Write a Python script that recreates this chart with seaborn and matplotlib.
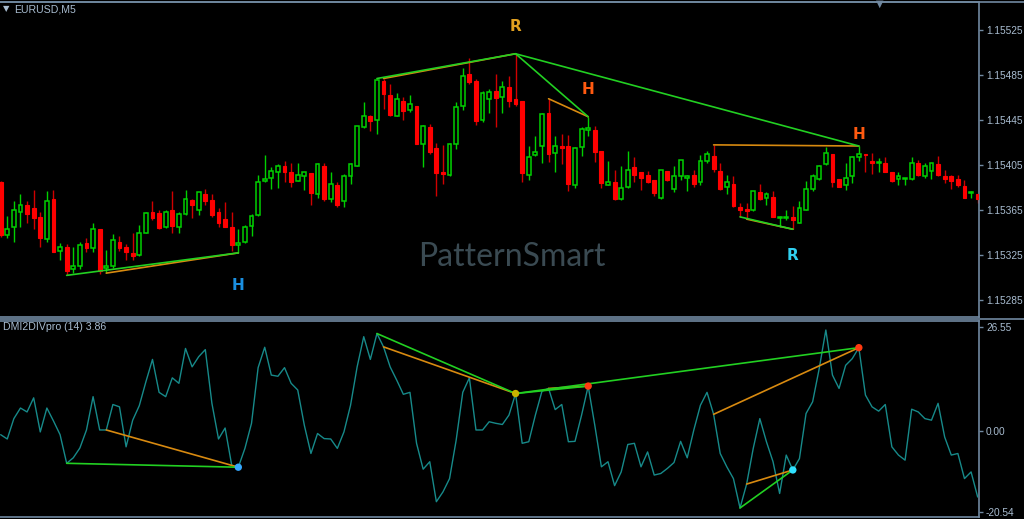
import numpy as np
import pandas as pd
import seaborn as sns
import matplotlib
matplotlib.use('Agg')
import matplotlib.pyplot as plt
from matplotlib.lines import Line2D

# candle data (149 bars, left to right)
opens = [
    1.15390, 1.15343, 1.15350, 1.15363, 1.15370, 1.15367, 1.15359, 1.15339, 1.15375, 1.15329,
    1.15332, 1.15313, 1.15315, 1.15336, 1.15331, 1.15348, 1.15314, 1.15315, 1.15337, 1.15332,
    1.15327, 1.15325, 1.15345, 1.15363, 1.15362, 1.15350, 1.15365, 1.15350, 1.15362, 1.15374,
    1.15365, 1.15379, 1.15374, 1.15363, 1.15357, 1.15350, 1.15334, 1.15337, 1.15351, 1.15361,
    1.15391, 1.15394, 1.15399, 1.15404, 1.15399, 1.15391, 1.15395, 1.15398, 1.15379, 1.15404,
    1.15375, 1.15387, 1.15373, 1.15395, 1.15404, 1.15439, 1.15449, 1.15445, 1.15480, 1.15467,
    1.15449, 1.15462, 1.15454, 1.15458, 1.15424, 1.15439, 1.15420, 1.15399, 1.15396, 1.15424,
    1.15458, 1.15486, 1.15480, 1.15445, 1.15464, 1.15471, 1.15466, 1.15474, 1.15464, 1.15462,
    1.15396, 1.15414, 1.15422, 1.15451, 1.15416, 1.15422, 1.15422, 1.15387, 1.15421, 1.15436,
    1.15436, 1.15418, 1.15387, 1.15390, 1.15375, 1.15386, 1.15403, 1.15399, 1.15396, 1.15392,
    1.15376, 1.15400, 1.15384, 1.15395, 1.15394, 1.15396, 1.15390, 1.15409, 1.15413, 1.15400,
    1.15386, 1.15388, 1.15368, 1.15366, 1.15365, 1.15381, 1.15376, 1.15377, 1.15358, 1.15358,
    1.15359, 1.15354, 1.15365, 1.15384, 1.15393, 1.15406, 1.15415, 1.15393, 1.15387, 1.15395,
    1.15412, 1.15415, 1.15409, 1.15407, 1.15407, 1.15399, 1.15393, 1.15393, 1.15393, 1.15407,
    1.15395, 1.15400, 1.15406, 1.15395, 1.15395, 1.15393, 1.15386, 1.15380, 1.15379,
]
highs = [
    1.15391, 1.15360, 1.15373, 1.15379, 1.15373, 1.15383, 1.15363, 1.15382, 1.15383, 1.15336,
    1.15335, 1.15332, 1.15337, 1.15340, 1.15354, 1.15348, 1.15330, 1.15344, 1.15342, 1.15335,
    1.15345, 1.15352, 1.15363, 1.15373, 1.15365, 1.15365, 1.15382, 1.15363, 1.15383, 1.15375,
    1.15381, 1.15384, 1.15379, 1.15367, 1.15372, 1.15363, 1.15348, 1.15352, 1.15362, 1.15396,
    1.15414, 1.15403, 1.15406, 1.15409, 1.15407, 1.15407, 1.15399, 1.15398, 1.15407, 1.15407,
    1.15399, 1.15390, 1.15397, 1.15407, 1.15440, 1.15461, 1.15450, 1.15482, 1.15482, 1.15477,
    1.15469, 1.15466, 1.15467, 1.15458, 1.15441, 1.15442, 1.15425, 1.15423, 1.15425, 1.15461,
    1.15491, 1.15500, 1.15482, 1.15471, 1.15473, 1.15486, 1.15480, 1.15484, 1.15504, 1.15462,
    1.15422, 1.15431, 1.15451, 1.15464, 1.15431, 1.15433, 1.15432, 1.15421, 1.15439, 1.15448,
    1.15440, 1.15418, 1.15409, 1.15401, 1.15404, 1.15418, 1.15412, 1.15399, 1.15400, 1.15392,
    1.15401, 1.15400, 1.15404, 1.15410, 1.15396, 1.15401, 1.15414, 1.15418, 1.15423, 1.15407,
    1.15396, 1.15395, 1.15371, 1.15371, 1.15382, 1.15388, 1.15381, 1.15382, 1.15360, 1.15365,
    1.15369, 1.15373, 1.15391, 1.15397, 1.15405, 1.15421, 1.15415, 1.15393, 1.15407, 1.15413,
    1.15422, 1.15415, 1.15416, 1.15411, 1.15412, 1.15399, 1.15399, 1.15394, 1.15412, 1.15410,
    1.15407, 1.15407, 1.15413, 1.15401, 1.15396, 1.15396, 1.15392, 1.15382, 1.15379,
]
lows = [
    1.15341, 1.15340, 1.15337, 1.15350, 1.15354, 1.15348, 1.15332, 1.15337, 1.15328, 1.15321,
    1.15307, 1.15309, 1.15313, 1.15328, 1.15328, 1.15308, 1.15309, 1.15314, 1.15329, 1.15321,
    1.15321, 1.15324, 1.15345, 1.15356, 1.15348, 1.15349, 1.15345, 1.15345, 1.15361, 1.15358,
    1.15361, 1.15370, 1.15359, 1.15350, 1.15350, 1.15329, 1.15327, 1.15336, 1.15342, 1.15360,
    1.15390, 1.15384, 1.15385, 1.15390, 1.15386, 1.15391, 1.15383, 1.15370, 1.15376, 1.15373,
    1.15372, 1.15368, 1.15368, 1.15388, 1.15404, 1.15438, 1.15435, 1.15433, 1.15455, 1.15449,
    1.15449, 1.15445, 1.15452, 1.15424, 1.15403, 1.15415, 1.15378, 1.15388, 1.15395, 1.15419,
    1.15454, 1.15477, 1.15441, 1.15443, 1.15451, 1.15439, 1.15451, 1.15457, 1.15458, 1.15390,
    1.15392, 1.15413, 1.15407, 1.15408, 1.15399, 1.15406, 1.15382, 1.15385, 1.15413, 1.15431,
    1.15408, 1.15385, 1.15387, 1.15374, 1.15374, 1.15385, 1.15390, 1.15383, 1.15389, 1.15378,
    1.15375, 1.15391, 1.15381, 1.15392, 1.15382, 1.15386, 1.15387, 1.15407, 1.15399, 1.15383,
    1.15379, 1.15368, 1.15359, 1.15357, 1.15364, 1.15374, 1.15370, 1.15359, 1.15350, 1.15356,
    1.15348, 1.15354, 1.15365, 1.15382, 1.15392, 1.15405, 1.15386, 1.15386, 1.15383, 1.15389,
    1.15409, 1.15399, 1.15397, 1.15399, 1.15399, 1.15390, 1.15387, 1.15387, 1.15392, 1.15395,
    1.15394, 1.15393, 1.15395, 1.15389, 1.15384, 1.15386, 1.15376, 1.15376, 1.15371,
]
closes = [
    1.15343, 1.15348, 1.15365, 1.15370, 1.15362, 1.15358, 1.15340, 1.15373, 1.15328, 1.15332,
    1.15311, 1.15315, 1.15334, 1.15331, 1.15348, 1.15311, 1.15315, 1.15338, 1.15331, 1.15328,
    1.15324, 1.15345, 1.15362, 1.15358, 1.15349, 1.15363, 1.15351, 1.15362, 1.15375, 1.15370,
    1.15381, 1.15373, 1.15361, 1.15354, 1.15350, 1.15334, 1.15336, 1.15350, 1.15360, 1.15390,
    1.15393, 1.15400, 1.15404, 1.15399, 1.15390, 1.15396, 1.15399, 1.15380, 1.15406, 1.15375,
    1.15388, 1.15370, 1.15395, 1.15406, 1.15440, 1.15449, 1.15444, 1.15481, 1.15468, 1.15450,
    1.15464, 1.15453, 1.15459, 1.15424, 1.15440, 1.15417, 1.15398, 1.15397, 1.15424, 1.15457,
    1.15484, 1.15479, 1.15444, 1.15469, 1.15470, 1.15465, 1.15474, 1.15462, 1.15459, 1.15398,
    1.15412, 1.15417, 1.15450, 1.15415, 1.15422, 1.15420, 1.15388, 1.15420, 1.15437, 1.15438,
    1.15417, 1.15389, 1.15390, 1.15375, 1.15385, 1.15401, 1.15396, 1.15394, 1.15390, 1.15380,
    1.15401, 1.15392, 1.15395, 1.15410, 1.15395, 1.15388, 1.15409, 1.15415, 1.15402, 1.15384,
    1.15390, 1.15369, 1.15365, 1.15364, 1.15382, 1.15375, 1.15379, 1.15359, 1.15359, 1.15359,
    1.15356, 1.15367, 1.15384, 1.15395, 1.15404, 1.15416, 1.15390, 1.15386, 1.15394, 1.15412,
    1.15415, 1.15414, 1.15407, 1.15408, 1.15399, 1.15391, 1.15395, 1.15394, 1.15407, 1.15396,
    1.15404, 1.15407, 1.15396, 1.15393, 1.15391, 1.15387, 1.15376, 1.15381, 1.15375,
]

# DMI2DIVpro (14) oscillator values
osc = [
    -0.9, -2.0, 3.2, 5.9, 4.9, 8.5, -0.2, 5.9, 2.6, -0.9,
    -8.2, -6.8, -4.3, 0.3, 8.8, 0.3, 0.3, 6.8, 6.2, -4.0,
    2.8, 6.5, 12.6, 18.3, 9.9, 8.8, 13.6, 12.2, 21.1, 16.4,
    19.0, 20.8, 7.1, -2.0, 0.8, -8.7, -9.2, -4.4, 2.0, 16.2,
    21.4, 14.3, 14.0, 16.2, 12.2, 10.5, 1.5, -5.7, -0.6, -1.9,
    -2.0, -4.4, -0.2, 6.6, 16.4, 24.1, 18.3, 24.9, 21.5, 16.4,
    13.0, 9.4, 9.9, -3.1, -9.7, -7.8, -18.0, -15.5, -12.1, -2.3,
    9.9, 13.6, 0.3, 0.3, 2.4, 2.0, 1.7, 4.1, 9.6, -3.1,
    -2.7, 4.1, 10.2, 10.9, 5.5, 6.8, -2.7, -2.6, 4.1, 11.5,
    1.5, -9.1, -7.8, -13.9, -10.4, -3.4, -3.1, -9.1, -5.3, -11.2,
    -10.8, -9.5, -8.0, -2.6, -6.8, 0.3, 6.6, 9.9, 4.3, -5.7,
    -9.1, -12.1, -19.6, -13.5, -4.4, 3.2, -2.7, -7.8, -15.9, -6.1,
    -9.9, -7.0, 4.5, 7.5, 16.0, 25.8, 14.3, 10.9, 16.8, 18.5,
    21.3, 9.2, 6.2, 5.1, 6.8, -4.0, -6.1, -7.4, 5.6, 4.9,
    3.2, 2.8, 7.1, -1.5, -6.1, -5.7, -12.1, -10.4, -16.8,
]

price_ticks = [1.15285, 1.15325, 1.15365, 1.15405, 1.15445, 1.15485, 1.15525]
osc_ticks = [-20.54, 0.00, 26.55]

# divergence patterns: (label, label colour, side, green start, orange start, end bar, dot colour)
patterns = [
    ('H', '#1a8fe0', 'low', 10, 16, 36, '#35a8ff'),
    ('R', '#e0a020', 'high', 57, 58, 78, '#c8b400'),
    ('H', '#ff5a10', 'high', 78, 83, 89, '#ff3a10'),
    ('H', '#ff5a10', 'high', 78, 108, 130, '#ff3a10'),
    ('R', '#30d0f0', 'low', 112, 113, 120, '#30e0ff'),
]
label_offsets = {0: -0.00029, 1: 0.00024, 2: 0.00024, 3: 0.00010, 4: -0.00023}

df = pd.DataFrame({'open': opens, 'high': highs, 'low': lows, 'close': closes, 'osc': osc})
df['bar'] = np.arange(len(df))
bull = df['close'] >= df['open']

sns.set_style('dark', {'axes.facecolor': 'black', 'figure.facecolor': 'black'})
plt.rcParams['font.family'] = ['Liberation Sans', 'DejaVu Sans']

frame = '#7088a0'
txt = '#a8bcd0'
green = '#00d000'
red = '#ff0000'
line_green = '#22d022'
line_orange = '#d88a10'

fig = plt.figure(figsize=(10.24, 5.19), dpi=100)
fig.patch.set_facecolor('black')
# price panel: y = 2..317 px, oscillator panel: y = 321..517 px
ax = fig.add_axes([0.0, 1 - 317 / 519, 979 / 1024, 315 / 519])
ax2 = fig.add_axes([0.0, 2 / 519, 979 / 1024, 196 / 519])

# candles
ax.vlines(df['bar'][bull], df['low'][bull], df['high'][bull], color=green, linewidth=1)
ax.vlines(df['bar'][~bull], df['low'][~bull], df['high'][~bull], color='#d00000', linewidth=1)
body_lo = np.minimum(df['open'], df['close'])
body_h = np.maximum((df['close'] - df['open']).abs(), 0.000006)
ax.bar(df['bar'][bull], body_h[bull], bottom=body_lo[bull], width=0.58,
       color='black', edgecolor=green, linewidth=1.1, zorder=3)
ax.bar(df['bar'][~bull], body_h[~bull], bottom=body_lo[~bull], width=0.58,
       color=red, edgecolor=red, linewidth=0.8, zorder=3)

# divergence lines on price and oscillator
for k, (lab, lcol, side, g0, o0, end, dcol) in enumerate(patterns):
    col = 'low' if side == 'low' else 'high'
    sns.lineplot(x=[o0, end], y=[df[col][o0], df[col][end]], ax=ax, color=line_orange,
                 linewidth=1.2, zorder=4)
    sns.lineplot(x=[g0, end], y=[df[col][g0], df[col][end]], ax=ax, color=line_green,
                 linewidth=1.2, zorder=5)
    sns.lineplot(x=[o0, end], y=[df['osc'][o0], df['osc'][end]], ax=ax2, color=line_orange,
                 linewidth=1.2, zorder=4)
    sns.lineplot(x=[g0, end], y=[df['osc'][g0], df['osc'][end]], ax=ax2, color=line_green,
                 linewidth=1.2, zorder=5)
    ax.text(end, df[col][end] + label_offsets[k], lab, color=lcol, fontsize=11,
            fontweight='bold', family='DejaVu Sans', ha='center', va='center', zorder=6)

sns.lineplot(data=df, x='bar', y='osc', ax=ax2, color='#178a8a', linewidth=1.0, zorder=3)
dots = pd.DataFrame({'bar': [p[5] for p in patterns],
                     'osc': [osc[p[5]] for p in patterns],
                     'c': [p[6] for p in patterns]})
sns.scatterplot(data=dots, x='bar', y='osc', ax=ax2, hue='c', palette=dict(zip(dots['c'], dots['c'])),
                s=28, edgecolor='none', legend=False, zorder=7)

ax.text(0.523, 0.19, 'PatternSmart', transform=ax.transAxes, color='#3a4a52',
        fontsize=23, family='Lato', ha='center', va='center', zorder=1)

for a in (ax, ax2):
    a.set_xlim(-0.1, 148.2)
    a.set_xlabel('')
    a.set_ylabel('')
    a.grid(False)
    a.set_facecolor('black')
    a.yaxis.tick_right()
    a.tick_params(axis='y', colors=frame, labelcolor=txt, labelsize=7.3, length=3, width=1,
                  direction='out', pad=2, right=True, left=False)
    a.spines['left'].set_visible(False)
    for s in ('top', 'right', 'bottom'):
        a.spines[s].set_color(frame)
        a.spines[s].set_linewidth(1.2)

ax.set_ylim(1.15270, 1.15550)
ax.set_yticks(price_ticks)
ax.set_yticklabels([f'{t:.5f}' for t in price_ticks])
ax.set_xticks([])

ax2.set_ylim(-21.9, 28.1)
ax2.set_yticks(osc_ticks)
ax2.set_yticklabels([f'{t:.2f}' for t in osc_ticks])
ax2.set_xticks(np.arange(12, 149, 12))
ax2.tick_params(axis='x', colors=frame, direction='in', length=3, labelbottom=False)

# full-width frame lines (top edge and panel separator)
for yy in (1 - 2 / 519, 1 - 319 / 519):
    fig.add_artist(Line2D([0, 1], [yy, yy], transform=fig.transFigure, color=frame, linewidth=1.2))

fig.text(3 / 1024, 1 - 9 / 519, '\u25bc', color=txt, fontsize=6, family='DejaVu Sans', va='center')
fig.text(14 / 1024, 1 - 9 / 519, 'EURUSD,M5', color=txt, fontsize=7.6, va='center')
fig.text(3 / 1024, 1 - 327 / 519, 'DMI2DIVpro (14) 3.86', color=txt, fontsize=7.6, va='center')
fig.text(880 / 1024, 1 - 4 / 519, '\u25bc', color=frame, fontsize=7, family='DejaVu Sans',
         ha='center', va='center')

plt.savefig('out.png', dpi=100, facecolor='black')
